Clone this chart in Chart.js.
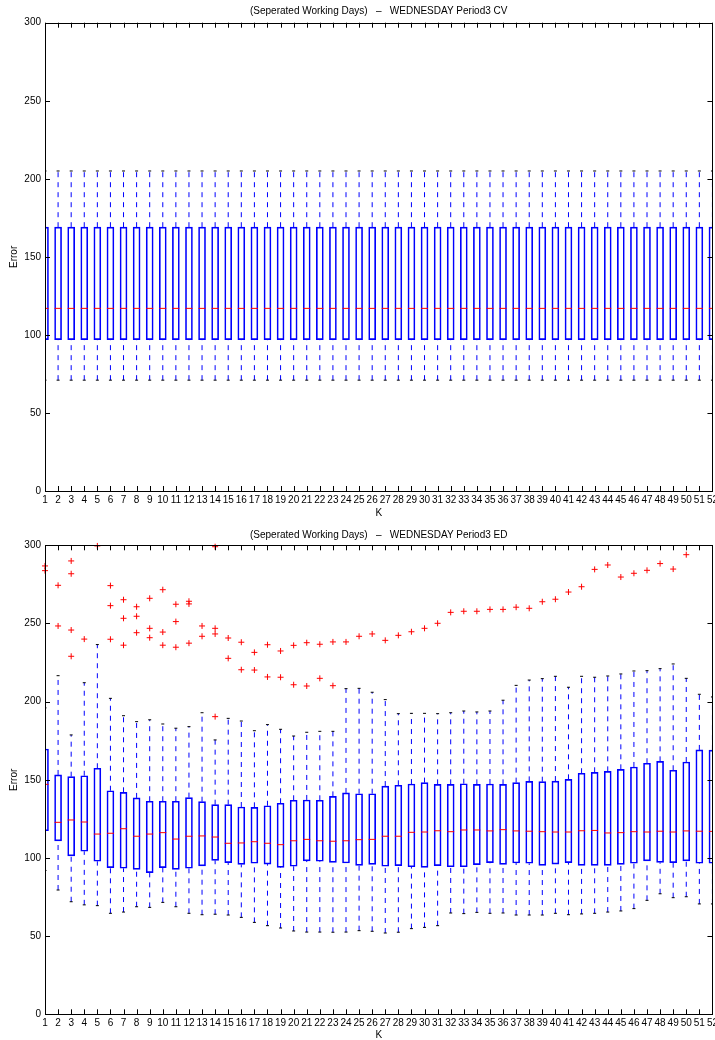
<!DOCTYPE html>
<html>
<head>
<meta charset="utf-8">
<script src="https://cdn.jsdelivr.net/npm/chart.js@4.4.1/dist/chart.umd.min.js"></script>
<style>
  html, body { margin: 0; padding: 0; background: #fff; overflow: hidden; width: 715px; height: 1040px; }
  canvas { position: absolute; left: 0; }
  #cv { top: 0; }
  #ed { top: 520px; }
</style>
</head>
<body>
<canvas id="cv" width="721" height="519"></canvas>
<canvas id="ed" width="721" height="521"></canvas>
<script>
// K = 1..52, one box per K
const K = [1,2,3,4,5,6,7,8,9,10,11,12,13,14,15,16,17,18,19,20,21,22,23,24,25,26,
           27,28,29,30,31,32,33,34,35,36,37,38,39,40,41,42,43,44,45,46,47,48,49,50,51,52]

// top panel (CV) - every box is the same
const cvMin = [71,71,71,71,71,71,71,71,71,71,71,71,71,71,71,71,71,71,71,71,71,71,71,71,71,71,
               71,71,71,71,71,71,71,71,71,71,71,71,71,71,71,71,71,71,71,71,71,71,71,71,71,71]
const cvQ1  = [97,97,97,97,97,97,97,97,97,97,97,97,97,97,97,97,97,97,97,97,97,97,97,97,97,97,
               97,97,97,97,97,97,97,97,97,97,97,97,97,97,97,97,97,97,97,97,97,97,97,97,97,97]
const cvMed = [117,117,117,117,117,117,117,117,117,117,117,117,117,117,117,117,117,117,117,117,117,117,117,117,117,117,
               117,117,117,117,117,117,117,117,117,117,117,117,117,117,117,117,117,117,117,117,117,117,117,117,117,117]
const cvQ3  = [169,169,169,169,169,169,169,169,169,169,169,169,169,169,169,169,169,169,169,169,169,169,169,169,169,169,
               169,169,169,169,169,169,169,169,169,169,169,169,169,169,169,169,169,169,169,169,169,169,169,169,169,169]
const cvMax = [205,205,205,205,205,205,205,205,205,205,205,205,205,205,205,205,205,205,205,205,205,205,205,205,205,205,
               205,205,205,205,205,205,205,205,205,205,205,205,205,205,205,205,205,205,205,205,205,205,205,205,205,205]
const cvOutK = []
const cvOutV = []

// bottom panel (ED)
const edMin = [92,79.5,72,70,69.5,64.6,65.4,68.8,68.4,71.6,68.8,64.6,63.7,64,63.5,62,58.8,56.7,55.2,53.3,52.6,52.6,52.5,52.6,53.5,53.1,
               52,52.5,54.8,55.6,56.7,64.8,64.4,65.2,64.6,64.8,63.5,63.5,63.5,64.6,63.7,64.2,64.6,65.4,66.1,67.6,72.9,77.1,74.6,75.2,70.6,70.6]
const edQ1  = [117.4,110.9,101.3,104.3,97.9,93.8,93.4,92.7,90.6,93.8,92.7,93.4,94.9,98.5,97,95.9,96.6,96.1,94,94.7,98.1,97.9,97.2,96.8,95.3,95.9,
               94.7,95.1,94.4,94,95.1,94.4,94.4,95.7,97,95.9,96.8,96.6,95.3,96.1,97,95.3,95.3,95.3,95.9,96.6,98.1,97.2,97,98.1,96.6,96.6]
const edMed = [147.1,122.8,124.3,123,115.3,115.8,118.7,113.9,115.3,116.2,112.1,113.9,114.1,113.4,109.4,109.6,110.4,109.4,108.5,111,111.9,111,110.7,111,111.7,111.9,
               113.9,113.9,116.4,116.6,117.4,116.8,117.9,117.9,117.3,118.1,117.3,117.1,116.8,116.6,116.6,117.4,117.6,116,116.2,116.8,116.6,117.1,116.6,117.3,117.1,117]
const edQ3  = [169.7,153.1,152,152.6,157.4,143,142,138.4,136.3,136.3,136.3,138.6,136,134.1,134.1,132.6,132.4,133.4,135,136.9,137.1,136.9,139.4,141.6,141.1,141.1,
               146,146.5,147.3,148.2,147.1,147.1,147.5,147.1,147.3,147.1,148.2,149,148.8,149.2,150.3,154.2,154.8,155.4,156.7,158.2,160.6,161.8,156.1,161.4,169.1,169]
const edMax = [196,216.6,178.7,212.1,236.5,202.1,191,187.2,188.4,185.7,183,184,192.9,175.5,189.3,187.6,181.4,185.3,182.3,178,180.4,181,181,208.3,208.5,206,
               201.3,192.3,192.5,192.5,192.3,192.9,194,193.4,194,200.9,210.4,213.8,214.7,216.2,209.2,216.2,215.6,216.4,217.7,219.6,219.8,221.1,224.1,214.9,204.7,203]
const edOutK = [1,1, 2,2, 3,3,3,3, 4, 5, 6,6,6, 7,7,7, 8,8,8, 9,9,9, 10,10,10, 11,11,11, 12,12,12, 13,13, 14,14,14,14,
                15,15, 16,16, 17,17, 18,18, 19,19, 20,20, 21,21, 22,22, 23,23, 24, 25, 26, 27, 28, 29, 30, 31, 32, 33,
                34, 35, 36, 37, 38, 39, 40, 41, 42, 43, 44, 45, 46, 47, 48, 49, 50]
const edOutV = [286.8,283.8, 274.4,248.4, 290,281.8,245.8,229, 240, 299.6, 274.2,261.4,239.9, 265.2,253.3,236.1,
                260.7,254.6,244.1, 266.1,246.9,240.9, 271.6,244.5,236.1, 262.3,251.2,234.8, 264.2,262.5,237.4, 248.4,241.8,
                299.1,246.9,243.3,190.4, 240.7,227.7, 238,220.4, 231.5,220.2, 236.4,215.8, 232.4,215.6, 236,210.8,
                237.7,210, 236.7,214.9, 238.2,210.2, 238.2, 241.8, 243.3, 239.2, 242.4, 244.7, 246.9, 250.1, 257.1, 257.8,
                257.8, 259, 259, 260.4, 259.7, 263.9, 265.5, 270.1, 273.5, 284.6, 287.4, 279.7, 282.1, 284, 288.3, 284.8, 294]

const yTicks = [0, 50, 100, 150, 200, 250, 300]

Chart.defaults.font.family = "'Liberation Sans', Arial, Helvetica, sans-serif"
Chart.defaults.font.size = 10
Chart.defaults.color = '#000'

// matlab style frame with inward tick marks
const frameTicks = {
  id: 'frameTicks',
  afterDatasetsDraw(chart) {
    const {ctx, chartArea: a, scales: {x, y}} = chart
    ctx.save()
    ctx.strokeStyle = '#000'
    ctx.lineWidth = 1
    ctx.beginPath()
    x.ticks.forEach(t => {
      const px = Math.round(x.getPixelForValue(t.value)) + 0.5
      ctx.moveTo(px, a.bottom); ctx.lineTo(px, a.bottom - 5)
      ctx.moveTo(px, a.top); ctx.lineTo(px, a.top + 5)
    })
    y.ticks.forEach(t => {
      const py = Math.round(y.getPixelForValue(t.value)) + 0.5
      ctx.moveTo(a.left, py); ctx.lineTo(a.left + 5, py)
      ctx.moveTo(a.right, py); ctx.lineTo(a.right - 5, py)
    })
    ctx.stroke()
    ctx.strokeRect(Math.round(a.left) + 0.5, Math.round(a.top) + 0.5,
                   Math.round(a.right) - Math.round(a.left), Math.round(a.bottom) - Math.round(a.top))
    ctx.restore()
  }
}

function whiskerPoints(lo, q1, q3, hi) {
  const pts = []
  K.forEach((x, i) => {
    pts.push({x, y: q3[i]}, {x, y: hi[i]}, {x, y: null})
    pts.push({x, y: lo[i]}, {x, y: q1[i]}, {x, y: null})
  })
  return pts
}

function makeChart(id, title, lo, q1, med, q3, hi, outK, outV, lay) {
  new Chart(document.getElementById(id), {
    type: 'bar',
    data: {
      datasets: [
        {type: 'scatter', label: 'outliers', data: outK.map((x, i) => ({x, y: outV[i]})),
         pointStyle: 'cross', pointRadius: 3, pointBorderColor: '#ff0000', borderColor: '#ff0000',
         pointBorderWidth: 1, clip: false, order: 0},
        {type: 'scatter', label: 'median', data: K.map((x, i) => ({x, y: med[i]})),
         pointStyle: 'line', pointRadius: 3.5, pointBorderColor: '#ff0000', borderColor: '#ff0000',
         pointBorderWidth: 1, clip: 0, order: 1},
        {type: 'scatter', label: 'caps', data: K.flatMap((x, i) => [{x, y: lo[i]}, {x, y: hi[i]}]),
         pointStyle: 'line', pointRadius: 1.5, pointBorderColor: '#000', borderColor: '#000',
         pointBorderWidth: 1, clip: 0, order: 2},
        {type: 'line', label: 'whiskers', data: whiskerPoints(lo, q1, q3, hi),
         borderColor: '#0000ff', borderWidth: 1, borderDash: [5, 5], pointRadius: 0,
         spanGaps: false, clip: 0, order: 3},
        {type: 'bar', label: 'box', data: K.map((x, i) => ({x, y: [q1[i], q3[i]]})),
         backgroundColor: 'rgba(0,0,0,0)', borderColor: '#0000ff', borderWidth: 1,
         borderSkipped: false, barThickness: 7, clip: 0, order: 4}
      ]
    },
    options: {
      responsive: false,
      animation: false,
      devicePixelRatio: 1,
      layout: {padding: 0},
      plugins: {
        legend: {display: false},
        tooltip: {enabled: false},
        title: {display: true, text: title, fullSize: false, color: '#000',
                font: {size: 10, weight: 'normal'}, padding: lay.titlePad}
      },
      scales: {
        x: {
          type: 'linear', min: 1, max: 52, offset: false,
          grid: {display: false, drawTicks: false}, border: {display: false},
          ticks: {stepSize: 1, autoSkip: false, maxRotation: 0, minRotation: 0, maxTicksLimit: 100, padding: 3},
          title: {display: true, text: 'K', padding: {top: 0, bottom: 0}},
          afterFit(s) { s.height = lay.xH }
        },
        y: {
          min: 0, max: 300,
          grid: {display: false, drawTicks: false}, border: {display: false},
          afterBuildTicks(s) { s.ticks = yTicks.map(v => ({value: v})) },
          ticks: {padding: 4},
          title: {display: true, text: 'Error', padding: {top: 8.7, bottom: 0}},
          afterFit(s) { s.width = 45 }
        }
      }
    },
    plugins: [frameTicks]
  })
}

makeChart('cv', '(Seperated Working Days)   \u2013   WEDNESDAY Period3 CV',
          cvMin, cvQ1, cvMed, cvQ3, cvMax, cvOutK, cvOutV,
          {titlePad: {top: 5.7, bottom: 5}, xH: 28})
makeChart('ed', '(Seperated Working Days)   \u2013   WEDNESDAY Period3 ED',
          edMin, edQ1, edMed, edQ3, edMax, edOutK, edOutV,
          {titlePad: {top: 9.7, bottom: 3.6}, xH: 26.7})
</script>
</body>
</html>
